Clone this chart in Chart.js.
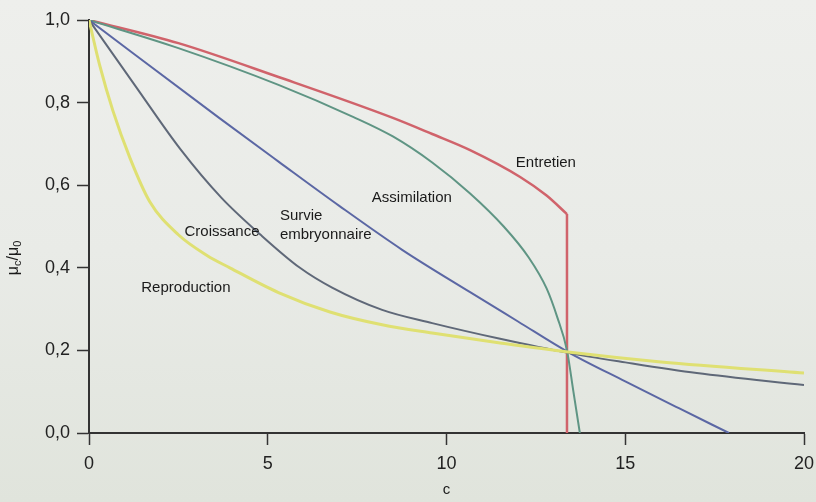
<!DOCTYPE html>
<html>
<head>
<meta charset="utf-8">
<script src="https://cdn.jsdelivr.net/npm/chart.js@4/dist/chart.umd.min.js"></script>
<style>
  html, body { margin: 0; padding: 0; }
  body { width: 816px; height: 502px; overflow: hidden; }
  #wrap { width: 816px; height: 502px; position: relative; }
</style>
</head>
<body>
<div id="wrap"><canvas id="chart" width="816" height="502"></canvas></div>
<script>
// Relative performance μc/μ0 against concentration c, per life function
const entretienC = [0, 2.5, 5.3, 8.5, 9.6, 10.66, 12.06, 12.8, 13.37];
const entretienMu = [1.0, 0.944, 0.862, 0.763, 0.724, 0.685, 0.62, 0.575, 0.53];
const entretienDropMu = 0.0; // sudden collapse at the end of the curve

const assimilationC = [0, 2.5, 5.3, 7.4, 8.5, 9.6, 10.66, 11.6, 12.3, 12.8, 13.1, 13.37, 13.55, 13.73];
const assimilationMu = [1.0, 0.932, 0.843, 0.765, 0.718, 0.655, 0.58, 0.5, 0.425, 0.35, 0.28, 0.2, 0.1, 0.0];

const survieC = [0, 3.64, 5.32, 7, 8.77, 10.66, 12, 13.4, 15, 16.5, 17.9];
const survieMu = [1.0, 0.763, 0.656, 0.55, 0.443, 0.341, 0.27, 0.196, 0.125, 0.06, 0.0];

const croissanceC = [0, 1.3, 2.55, 3.7, 4.8, 5.9, 6.8, 8.2, 9.6, 11.5, 13.4, 15, 17, 20];
const croissanceMu = [1.0, 0.84, 0.688, 0.57, 0.48, 0.40, 0.352, 0.298, 0.266, 0.228, 0.194, 0.171, 0.145, 0.116];

const reproductionC = [0, 0.3, 0.67, 1.15, 1.7, 2.5, 3.3, 3.94, 5.3, 6.74, 8.2, 9.6, 11.5, 13.4, 16, 20];
const reproductionMu = [1.0, 0.89, 0.78, 0.665, 0.56, 0.48, 0.43, 0.40, 0.34, 0.293, 0.262, 0.242, 0.218, 0.196, 0.172, 0.145];

const xTickLabels = ['0', '5', '10', '15', '20'];
const yTickLabels = ['0,0', '0,2', '0,4', '0,6', '0,8', '1,0'];

// Curve names written next to their lines (in data units)
const curveNames = ['Entretien', 'Assimilation', 'Survie', 'embryonnaire', 'Croissance', 'Reproduction'];
const nameC = [12.78, 9.03, 5.34, 5.34, 3.72, 2.71];
const nameMu = [0.654, 0.569, 0.525, 0.479, 0.487, 0.351];
const nameAlign = ['center', 'center', 'left', 'left', 'center', 'center'];

const toPoints = (xs, ys) => xs.map((x, i) => ({ x: x, y: ys[i] }));

const FONT = "'Liberation Sans', Arial, sans-serif";

const backdrop = {
  id: 'backdrop',
  beforeDraw(chart) {
    const ctx = chart.ctx;
    const g = ctx.createLinearGradient(0, 0, 0, chart.height);
    g.addColorStop(0, '#eeefec');
    g.addColorStop(0.5, '#e9ebe7');
    g.addColorStop(1, '#e0e4dc');
    ctx.save();
    ctx.fillStyle = g;
    ctx.fillRect(0, 0, chart.width, chart.height);
    ctx.restore();
  }
};

const textLayer = {
  id: 'textLayer',
  afterDraw(chart) {
    const ctx = chart.ctx;
    const xs = chart.scales.x, ys = chart.scales.y;
    const area = chart.chartArea;
    ctx.save();
    ctx.fillStyle = '#1a1a1a';
    ctx.font = '15px ' + FONT;
    ctx.textBaseline = 'middle';
    curveNames.forEach((t, i) => {
      ctx.textAlign = nameAlign[i];
      ctx.fillText(t, xs.getPixelForValue(nameC[i]), ys.getPixelForValue(nameMu[i]));
    });

    // x axis title
    ctx.font = '15px ' + FONT;
    ctx.textAlign = 'center';
    ctx.fillText('c', (area.left + area.right) / 2, chart.height - 12);

    // y axis title: μc/μ0 with subscripts, rotated
    ctx.translate(14, 258);
    ctx.rotate(-Math.PI / 2);
    const parts = [['μ', false], ['c', true], ['/μ', false], ['0', true]];
    const big = '16px ' + FONT, small = '11px ' + FONT;
    let total = 0;
    parts.forEach(p => { ctx.font = p[1] ? small : big; total += ctx.measureText(p[0]).width; });
    let cx = -total / 2;
    ctx.textAlign = 'left';
    parts.forEach(p => {
      ctx.font = p[1] ? small : big;
      ctx.fillText(p[0], cx, p[1] ? 4 : 0);
      cx += ctx.measureText(p[0]).width;
    });
    ctx.restore();
  }
};

const lineStyle = (color, width) => ({
  borderColor: color,
  backgroundColor: color,
  borderWidth: width,
  pointRadius: 0,
  fill: false
});

const RED = '#d0636b';
const lastC = entretienC[entretienC.length - 1];
const lastMu = entretienMu[entretienMu.length - 1];

new Chart(document.getElementById('chart'), {
  type: 'line',
  data: {
    datasets: [
      Object.assign({ label: 'Reproduction', data: toPoints(reproductionC, reproductionMu), cubicInterpolationMode: 'monotone' }, lineStyle('#dfe072', 3)),
      Object.assign({ label: 'Croissance', data: toPoints(croissanceC, croissanceMu), cubicInterpolationMode: 'monotone' }, lineStyle('#5f6878', 2)),
      Object.assign({ label: 'Survie embryonnaire', data: toPoints(survieC, survieMu), cubicInterpolationMode: 'monotone' }, lineStyle('#5b67a4', 2)),
      Object.assign({ label: 'Assimilation', data: toPoints(assimilationC, assimilationMu), cubicInterpolationMode: 'monotone' }, lineStyle('#5f9584', 2)),
      Object.assign({ label: 'Entretien', data: toPoints(entretienC, entretienMu), cubicInterpolationMode: 'monotone' }, lineStyle(RED, 2.5)),
      Object.assign({ label: 'Entretien (chute)', data: [{ x: lastC, y: lastMu }, { x: lastC, y: entretienDropMu }], tension: 0 }, lineStyle(RED, 2.5))
    ]
  },
  options: {
    responsive: false,
    animation: false,
    events: [],
    layout: { padding: { top: 20, right: 12, bottom: 0, left: 0 } },
    plugins: { legend: { display: false }, tooltip: { enabled: false } },
    scales: {
      x: {
        type: 'linear',
        min: 0, max: 20,
        afterFit(scale) {
          scale.height = 69;
          scale.paddingLeft = 0;
          scale.paddingRight = 0;
        },
        ticks: {
          stepSize: 5,
          padding: 8,
          color: '#222',
          font: { family: FONT, size: 18 },
          callback: (v) => xTickLabels[Math.round(v / 5)]
        },
        grid: { drawOnChartArea: false, drawTicks: true, tickLength: 12, tickColor: '#333', tickWidth: 1.5 },
        border: { display: true, color: '#333', width: 2 }
      },
      y: {
        type: 'linear',
        min: 0, max: 1,
        afterFit(scale) { scale.width = 89; },
        ticks: {
          stepSize: 0.2,
          padding: 7,
          color: '#222',
          font: { family: FONT, size: 18 },
          callback: (v) => yTickLabels[Math.round(v / 0.2)]
        },
        grid: { drawOnChartArea: false, drawTicks: true, tickLength: 12, tickColor: '#333', tickWidth: 1.5 },
        border: { display: true, color: '#333', width: 2 }
      }
    }
  },
  plugins: [backdrop, textLayer]
});
</script>
</body>
</html>
